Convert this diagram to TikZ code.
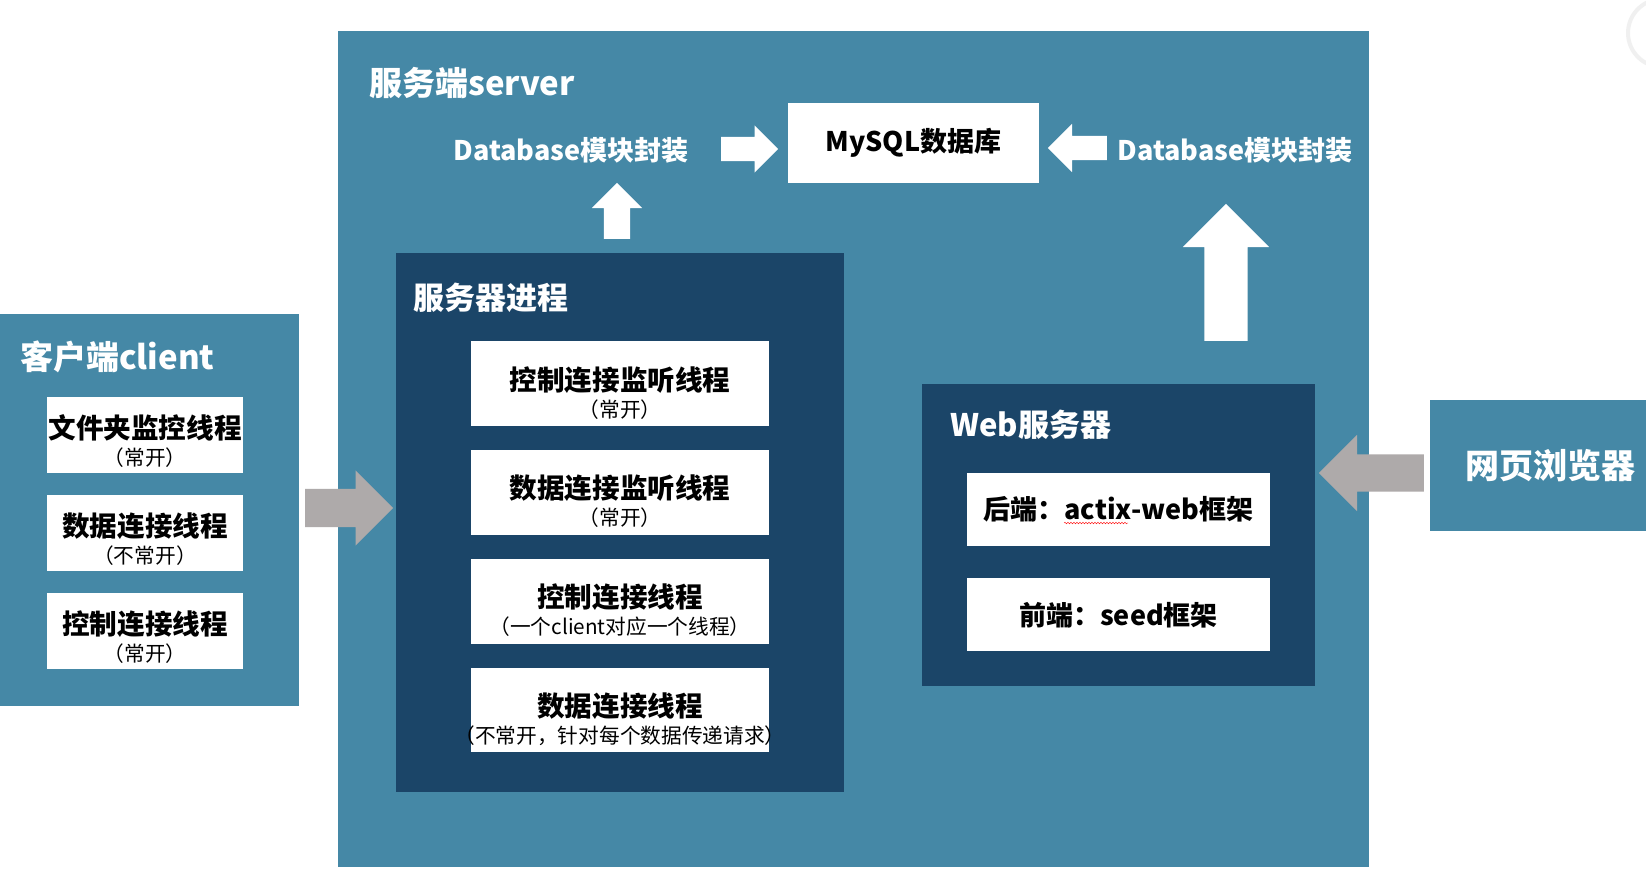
\documentclass[tikz,border=0pt]{standalone}
\usepackage{fontspec}
\setmainfont{Noto Sans CJK SC}
\usetikzlibrary{shapes.arrows, positioning, decorations.pathmorphing}
\definecolor{serverblue}{RGB}{69, 136, 166}
\definecolor{darknavy}{RGB}{27, 69, 104}
\definecolor{arrowgray}{RGB}{174, 170, 170}
\newcommand{\threadnote}{\fontsize{20.7}{27}\selectfont\mdseries}
\tikzstyle{panel} = [rectangle, fill=serverblue, inner sep=0pt]
\tikzstyle{inner} = [rectangle, fill=darknavy, inner sep=0pt]
\tikzstyle{heading} = [anchor=west, inner sep=0pt, text=white, font=\fontsize{33}{36}\selectfont\bfseries]
\tikzstyle{module} = [inner sep=0pt, text=white, font=\fontsize{27}{30}\selectfont\bfseries]
\tikzstyle{thread} = [rectangle, fill=white, inner sep=0pt, text width=298pt, minimum height=84.5pt, text height=25pt, text depth=12pt, align=center, text=black, font=\fontsize{27.6}{27}\selectfont\bfseries]
\tikzstyle{cthread} = [thread, text width=196pt, minimum height=76pt, text depth=18pt]
\tikzstyle{part} = [rectangle, fill=white, inner sep=0pt, text width=303pt, minimum height=73pt, align=center, font=\fontsize{27}{30}\selectfont\bfseries]
\tikzstyle{fatarrow} = [single arrow, single arrow tip angle=90, inner xsep=0pt, anchor=tail, fill=white]

\begin{document}
\begin{tikzpicture}[x=1pt, y=-1pt, node distance=24pt]
\useasboundingbox (0,0) rectangle (1646,892);
\fill[white] (0,0) rectangle (1646,892);
\draw[black!6, line width=4pt, fill=white] (1662,33) circle (34);

% Outer panels
\node (client) [panel, minimum width=299pt, minimum height=392pt] at (149.5,510) {};
\node (server) [panel, minimum width=1031pt, minimum height=836pt] at (853.5,449) {};
\node (browser) [panel, minimum width=240pt, minimum height=131pt, text=white, font=\fontsize{34}{36}\selectfont\bfseries] at (1550,465.5) {网页浏览器};
\node (proc) [inner, minimum width=448pt, minimum height=539pt] at (620,522.5) {};
\node (web) [inner, minimum width=393pt, minimum height=302pt] at (1118.5,535) {};

% Titles
\node (clienttitle) [heading] at (20,357) {客户端client};
\node (servertitle) [heading] at (369,83) {服务端server};
\node (proctitle) [heading, font=\fontsize{31}{34}\selectfont\bfseries] at (413,298) {服务器进程};
\node (webtitle) [heading, font=\fontsize{31}{34}\selectfont\bfseries] at (950,425) {Web服务器};

% Database layer
\node (dbleft) [module] at (571,150) {Database模块封装};
\node (mysql) [rectangle, fill=white, minimum width=251pt, minimum height=80pt, font=\fontsize{27}{30}\selectfont\bfseries] at (913.5,143) {MySQL数据库};
\node (dbright) [module] at (1235,150) {Database模块封装};

% Client threads
\node (watch) [cthread] at (145,434.5) {文件夹监控线程\\{\threadnote （常开）}};
\node (cdata) [cthread, below=22pt of watch] {数据连接线程\\{\threadnote （不常开）}};
\node (cctrl) [cthread, below=22pt of cdata] {控制连接线程\\{\threadnote （常开）}};

% Server threads
\node (ctrllisten) [thread] at (620,383.5) {控制连接监听线程\\{\threadnote （常开）}};
\node (datalisten) [thread, below=of ctrllisten] {数据连接监听线程\\{\threadnote （常开）}};
\node (ctrlconn) [thread, below=of datalisten] {控制连接线程\\{\threadnote （一个client对应一个线程）}};
\node (dataconn) [thread, below=of ctrlconn] {数据连接线程\\{\threadnote \makebox[298pt]{（不常开，针对每个数据传递请求）}}};

% Web server parts
\node (backend) [part] at (1118.5,509.5) {后端：actix-web框架};
\node (frontend) [part, below=32pt of backend] {前端：seed框架};
\draw[red, decorate, decoration={snake, amplitude=0.8pt, segment length=3pt}] (1064,523) -- (1128,523);

% Block arrows
\node (todbl) [fatarrow, minimum height=57pt, inner ysep=12pt, single arrow head extend=11.5pt] at (721,149) {};
\node (todbr) [fatarrow, minimum height=59pt, inner ysep=12pt, single arrow head extend=12pt, rotate=180] at (1107,148) {};
\node (procup) [fatarrow, minimum height=56pt, inner ysep=13pt, single arrow head extend=12pt, rotate=90] at (617,239) {};
\node (webup) [fatarrow, minimum height=137pt, inner ysep=21.5pt, single arrow head extend=21.5pt, rotate=90] at (1226,341) {};
\node (clientin) [fatarrow, fill=arrowgray, minimum height=88pt, inner ysep=19pt, single arrow head extend=18.5pt] at (305,508) {};
\node (browserin) [fatarrow, fill=arrowgray, minimum height=105pt, inner ysep=18.5pt, single arrow head extend=19.5pt, rotate=180] at (1424,473) {};

\end{tikzpicture}
\end{document}
